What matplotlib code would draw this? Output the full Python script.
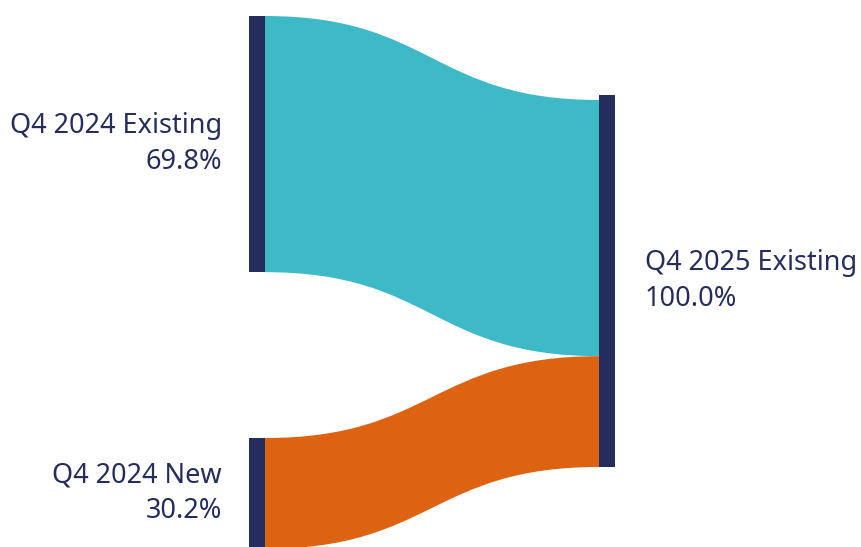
import matplotlib.pyplot as plt
from matplotlib.path import Path
from matplotlib.patches import PathPatch, Rectangle

# flow data (share of Q4 2025 existing base)
source_labels = ['Q4 2024 Existing', 'Q4 2024 New']
source_values = [69.8, 30.2]
target_label = 'Q4 2025 Existing'
target_value = 100.0
flow_colors = ['#3dbac6', '#dd6313']

NODE_COLOR = '#252d5e'
TEXT_COLOR = '#252d5e'

plt.rcParams['font.family'] = ['Noto Sans', 'DejaVu Sans']

W, H = 861, 547
fig = plt.figure(figsize=(W / 100, H / 100), dpi=100)
ax = fig.add_axes([0, 0, 1, 1])
ax.set_xlim(0, W)
ax.set_ylim(H, 0)
ax.axis('off')

# layout in pixel space
scale = 3.67          # px per percent
node_w = 16
left_x = 249
right_x = 599
left_tops = [16, 438]
right_top = 100
right_pad = 5
FS = 19.5


def link(x0, y0a, y0b, x1, y1a, y1b, color):
    xm = (x0 + x1) / 2
    verts = [(x0, y0a), (xm, y0a), (xm, y1a), (x1, y1a),
             (x1, y1b),
             (xm, y1b), (xm, y0b), (x0, y0b),
             (x0, y0a)]
    codes = [Path.MOVETO, Path.CURVE4, Path.CURVE4, Path.CURVE4,
             Path.LINETO,
             Path.CURVE4, Path.CURVE4, Path.CURVE4,
             Path.CLOSEPOLY]
    ax.add_patch(PathPatch(Path(verts, codes), facecolor=color,
                           edgecolor='none', zorder=1))


# flows
y_right = right_top
for top, val, col in zip(left_tops, source_values, flow_colors):
    h = val * scale
    link(left_x + node_w, top, top + h, right_x, y_right, y_right + h, col)
    y_right += h

# source nodes + labels
for top, val, lab in zip(left_tops, source_values, source_labels):
    h = val * scale
    ax.add_patch(Rectangle((left_x, top), node_w, h, facecolor=NODE_COLOR,
                           edgecolor='none', zorder=2))
    ax.text(222, top + h / 2, f'{lab}\n{val:.1f}%', ha='right', va='center',
            fontsize=FS, color=TEXT_COLOR, linespacing=1.35)

# target node + label
t_h = target_value * scale + right_pad
t_top = right_top - right_pad
ax.add_patch(Rectangle((right_x, t_top), node_w, t_h, facecolor=NODE_COLOR,
                       edgecolor='none', zorder=2))
ax.text(645, t_top + t_h / 2, f'{target_label}\n{target_value:.1f}%',
        ha='left', va='center', fontsize=FS, color=TEXT_COLOR,
        linespacing=1.35)

fig.savefig('out.png', dpi=100, facecolor='white')
